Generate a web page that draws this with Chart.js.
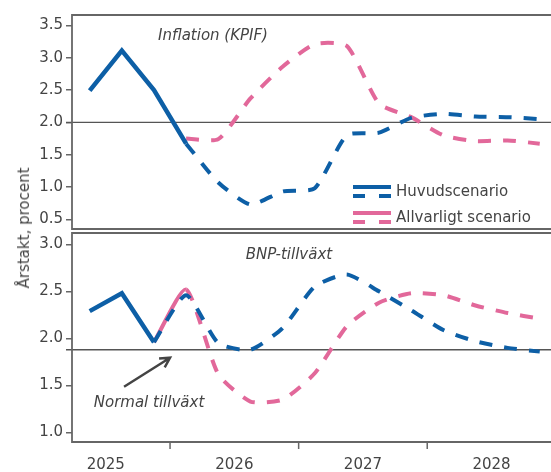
<!DOCTYPE html>
<html>
<head>
<meta charset="utf-8">
<script src="https://cdn.jsdelivr.net/npm/chart.js@4/dist/chart.umd.min.js"></script>
<style>
  body { margin: 0; background: #fff; }
  #wrap { position: relative; width: 551px; height: 472px; overflow: hidden; }
  canvas { position: absolute; left: 0; }
  #ytitle {
    position: absolute; left: 24px; top: 228px;
    transform: translate(-50%, -50%) rotate(-90deg);
    white-space: nowrap; font: 15px "DejaVu Sans", sans-serif; color: #444;
  }
</style>
</head>
<body>
<div id="wrap">
  <canvas id="kpif" width="551" height="231" style="top:0"></canvas>
  <canvas id="bnp" width="551" height="241" style="top:231px"></canvas>
  <div id="ytitle">Årstakt, procent</div>
</div>
<script>
// quarters shown, outcome then forecast
const quarters = [
  "2025 kv2", "2025 kv3", "2025 kv4",
  "2026 kv1", "2026 kv2", "2026 kv3", "2026 kv4",
  "2027 kv1", "2027 kv2", "2027 kv3", "2027 kv4",
  "2028 kv1", "2028 kv2", "2028 kv3", "2028 kv4",
];
const years = ["2025", "2026", "2027", "2028"];

// Inflation (KPIF)
const kpifOutcome = [2.49, 3.11, 2.50, 1.67]; // 2025 kv2 - 2026 kv1
const kpifMain = [1.67, 1.07, 0.73, 0.93, 0.98, 1.80, 1.84, 2.07, 2.13, 2.09, 2.08, 2.05]; // 2026 kv1 -
const kpifSevere = [1.75, 1.74, 2.37, 2.86, 3.21, 3.18, 2.29, 2.08, 1.80, 1.71, 1.72, 1.67]; // 2026 kv1 -
const kpifTicks = [0.5, 1.0, 1.5, 2.0, 2.5, 3.0, 3.5];
const inflationTarget = 2.0;

// BNP-tillväxt
const gdpOutcome = [2.29, 2.48, 1.96]; // 2025 kv2 - kv4
const gdpMain = [1.96, 2.46, 1.95, 1.88, 2.11, 2.55, 2.68, 2.50, 2.30, 2.09, 1.97, 1.90, 1.86]; // 2025 kv4 -
const gdpSevere = [1.96, 2.52, 1.62, 1.33, 1.35, 1.63, 2.13, 2.38, 2.48, 2.46, 2.35, 2.27, 2.21]; // 2025 kv4 -
const gdpTicks = [1.0, 1.5, 2.0, 2.5, 3.0];
const normalGrowth = 1.88;

const BLUE = "#0d5fa6";
const PINK = "#e2689a";
const DASH = [13, 12];
const FONT = "DejaVu Sans";

// 2025 kv1 -> 0
function qx(label) {
  const [y, k] = label.split(" kv");
  return (Number(y) - 2025) * 4 + (Number(k) - 1);
}
function series(values, startLabel) {
  const s = quarters.indexOf(startLabel);
  return values.map((v, i) => ({ x: qx(quarters[s + i]), y: v }));
}

function line(data, color, dashed, extra) {
  return Object.assign({
    data: data,
    borderColor: color,
    borderWidth: dashed ? 4 : 4.5,
    borderDash: dashed ? DASH : [],
    borderCapStyle: "butt",
    pointRadius: 0,
    tension: dashed ? 0.2 : 0,
    fill: false,
  }, extra || {});
}

const framePlugin = {
  id: "frame",
  beforeDatasetsDraw(chart) {
    const ref = chart.options.plugins.frame.refLine;
    const { ctx, chartArea: a, scales } = chart;
    const y = scales.y.getPixelForValue(ref);
    ctx.save();
    ctx.strokeStyle = "#555";
    ctx.lineWidth = 1.3;
    ctx.beginPath();
    ctx.moveTo(a.left - 6, y);
    ctx.lineTo(a.right, y);
    ctx.stroke();
    ctx.restore();
  },
  afterDraw(chart) {
    const { ctx, chartArea: a } = chart;
    ctx.save();
    ctx.strokeStyle = "#666";
    ctx.lineWidth = 1.8;
    ctx.beginPath();
    ctx.moveTo(a.right + 2, a.top);
    ctx.lineTo(a.left, a.top);
    ctx.lineTo(a.left, a.bottom);
    ctx.lineTo(a.right + 2, a.bottom);
    ctx.stroke();
    ctx.restore();
  },
};

function yScale(ticks, min, max) {
  return {
    min: min,
    max: max,
    afterFit: (s) => {
      s.width = 72;
      s.paddingTop = 0;
      s.paddingBottom = 0;
    },
    afterBuildTicks: (s) => { s.ticks = ticks.map((v) => ({ value: v })); },
    ticks: {
      font: { family: FONT, size: 15 },
      color: "#444",
      padding: 3,
      callback: (v) => Number(v).toFixed(1),
    },
    grid: { drawOnChartArea: false, drawTicks: true, tickLength: 6, color: "#666", lineWidth: 1.5 },
    border: { display: false },
  };
}

const xMin = 0.45, xMax = 15.35;

// top panel
new Chart(document.getElementById("kpif"), {
  type: "line",
  data: {
    datasets: [
      line(series(kpifOutcome, "2025 kv2"), BLUE, false),
      line(series(kpifMain, "2026 kv1"), BLUE, true),
      line(series(kpifSevere, "2026 kv1"), PINK, true),
    ],
  },
  options: {
    responsive: false,
    animation: false,
    layout: { padding: { top: 15, bottom: 2, left: 0, right: 0 } },
    plugins: {
      legend: { display: false },
      tooltip: { enabled: false },
      frame: { refLine: inflationTarget },
    },
    scales: {
      x: { type: "linear", min: xMin, max: xMax, display: false },
      y: yScale(kpifTicks, 0.35, 3.66),
    },
  },
  plugins: [framePlugin, {
    id: "kpifText",
    afterDraw(chart) {
      const ctx = chart.ctx;
      ctx.save();
      ctx.fillStyle = "#444";
      ctx.font = "italic 15px " + FONT;
      ctx.textAlign = "center";
      ctx.textBaseline = "middle";
      ctx.fillText("Inflation (KPIF)", 213, 36);
      // legend
      const items = [["Huvudscenario", BLUE, 187], ["Allvarligt scenario", PINK, 213]];
      ctx.font = "15px " + FONT;
      ctx.textAlign = "left";
      items.forEach(([text, color, y]) => {
        ctx.strokeStyle = color;
        ctx.lineWidth = 4;
        ctx.beginPath();
        ctx.moveTo(353, y);
        ctx.lineTo(391, y);
        ctx.moveTo(353, y + 9);
        ctx.lineTo(365, y + 9);
        ctx.moveTo(379, y + 9);
        ctx.lineTo(391, y + 9);
        ctx.stroke();
        ctx.fillText(text, 396, y + 5);
      });
      ctx.restore();
    },
  }],
});

// bottom panel
new Chart(document.getElementById("bnp"), {
  type: "line",
  data: {
    datasets: [
      line(series(gdpOutcome, "2025 kv2"), BLUE, false),
      line(series(gdpMain, "2025 kv4"), BLUE, true),
      line(series(gdpSevere, "2025 kv4"), PINK, true, {
        segment: { borderDash: (c) => (c.p0DataIndex === 0 ? [] : DASH) },
      }),
    ],
  },
  options: {
    responsive: false,
    animation: false,
    layout: { padding: { top: 2, bottom: 0, left: 0, right: 0 } },
    plugins: {
      legend: { display: false },
      tooltip: { enabled: false },
      frame: { refLine: normalGrowth },
    },
    scales: {
      x: {
        type: "linear",
        min: xMin,
        max: xMax,
        afterFit: (s) => {
          s.height = 30;
          s.paddingLeft = 0;
          s.paddingRight = 0;
        },
        afterBuildTicks: (s) => { s.ticks = years.map((y, i) => ({ value: i * 4 + 1.5 })); },
        ticks: {
          autoSkip: false,
          maxRotation: 0,
          font: { family: FONT, size: 15 },
          color: "#444",
          padding: 14,
          callback: (v) => years[Math.round((v - 1.5) / 4)],
        },
        grid: { display: false, drawTicks: false },
        border: { display: false },
      },
      y: yScale(gdpTicks, 0.9, 3.12),
    },
  },
  plugins: [framePlugin, {
    id: "bnpText",
    afterDraw(chart) {
      const { ctx, chartArea: a, scales } = chart;
      ctx.save();
      // year boundary ticks
      ctx.strokeStyle = "#666";
      ctx.lineWidth = 1.5;
      years.slice(1).forEach((y) => {
        const x = scales.x.getPixelForValue(qx(y + " kv1") - 0.5);
        ctx.beginPath();
        ctx.moveTo(x, a.bottom);
        ctx.lineTo(x, a.bottom + 7);
        ctx.stroke();
      });
      ctx.fillStyle = "#444";
      ctx.font = "italic 15px " + FONT;
      ctx.textAlign = "center";
      ctx.textBaseline = "middle";
      ctx.fillText("BNP-tillväxt", 289, 24);
      ctx.fillText("Normal tillväxt", 149, 172);
      // arrow towards normal growth line
      const tipX = scales.x.getPixelForValue(3.5);
      const tipY = scales.y.getPixelForValue(normalGrowth) + 8;
      const tailX = tipX - 46, tailY = tipY + 29;
      const ang = Math.atan2(tipY - tailY, tipX - tailX);
      ctx.strokeStyle = "#444";
      ctx.lineWidth = 2.5;
      ctx.beginPath();
      ctx.moveTo(tailX, tailY);
      ctx.lineTo(tipX, tipY);
      ctx.moveTo(tipX - 11 * Math.cos(ang - 0.5), tipY - 11 * Math.sin(ang - 0.5));
      ctx.lineTo(tipX, tipY);
      ctx.lineTo(tipX - 11 * Math.cos(ang + 0.5), tipY - 11 * Math.sin(ang + 0.5));
      ctx.stroke();
      ctx.restore();
    },
  }],
});
</script>
</body>
</html>
